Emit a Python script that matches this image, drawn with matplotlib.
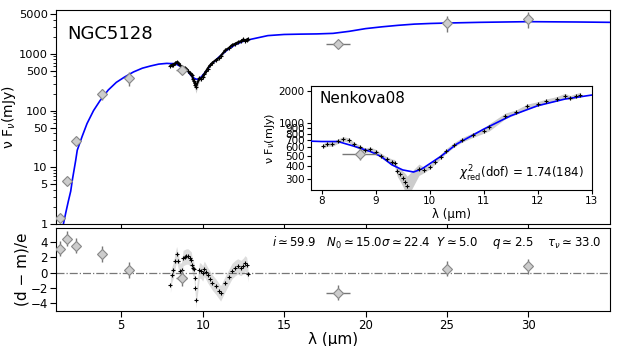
import numpy as np
import matplotlib
matplotlib.use('Agg')
import matplotlib.pyplot as plt
import matplotlib.ticker as mticker

plt.rcParams['font.family'] = ['DejaVu Sans']
plt.rcParams['mathtext.fontset'] = 'dejavusans'

# --- model SED (blue curve) ---
model_wave = [1.3, 1.45, 1.6, 1.75, 1.9, 2.0, 2.2, 2.3, 2.6, 2.9, 3.3, 3.7, 4.2, 4.7, 5.2,
              5.75, 6.3, 6.8, 7.3, 7.8, 8.0, 8.3, 8.6, 8.9, 9.1, 9.3, 9.5, 9.7, 9.85,
              10.0, 10.2, 10.5, 11.0, 11.5, 12.0, 12.5, 13.0, 14.0, 15.0, 16.0, 17.0,
              18.0, 19.0, 20.0, 21.0, 22.0, 23.0, 24.0, 25.0, 27.0, 30.0, 33.0, 35.0]
model_flux = [0.5, 1.0, 1.6, 2.5, 3.8, 6.0, 13, 20, 35, 59, 100, 150, 230, 315, 390,
              480, 560, 612, 660, 680, 675, 675, 610, 545, 490, 410, 368, 352, 375,
              420, 490, 640, 880, 1170, 1450, 1670, 1820, 2100, 2200, 2230, 2250,
              2300, 2500, 2790, 3000, 3190, 3350, 3440, 3500, 3600, 3700, 3650, 3600]

# --- photometry ---
phot_wave = [1.25, 1.65, 2.2, 3.8, 5.5, 8.7, 18.3, 25.0, 30.0]
phot_flux = [1.26, 5.7, 29.3, 200, 377, 516, 1475, 3540, 4170]
phot_ferr = [0.05, 0.2, 1.0, 45, 110, 65, 180, 1100, 1300]
phot_xerr = [0, 0, 0, 0, 0, 0.33, 0.75, 0, 0]
phot_resid = [3.1, 4.4, 3.5, 2.4, 0.35, -0.7, -2.6, 0.5, 0.8]

# --- spectrum (Nenkova08 fit window) ---
spec_wave = [8.02, 8.1, 8.2, 8.3, 8.4, 8.5, 8.6, 8.7, 8.8, 8.9, 9.0, 9.1, 9.2, 9.3,
             9.35, 9.4, 9.45, 9.5, 9.55, 9.58, 9.8, 9.9, 10.0, 10.1, 10.2, 10.3,
             10.45, 10.6, 10.8, 11.0, 11.1, 11.4, 11.6, 11.8, 12.0, 12.15, 12.35,
             12.5, 12.6, 12.7, 12.78]
spec_flux = [613, 640, 640, 680, 715, 695, 635, 598, 560, 572, 545, 500, 465, 440,
             430, 360, 335, 310, 285, 262, 372, 368, 395, 440, 490, 550,
             630, 700, 775, 850, 915, 1170, 1265, 1430, 1510, 1595, 1680,
             1800, 1720, 1790, 1840]
spec_err = [30, 30, 30, 32, 34, 33, 30, 28, 27, 27, 26, 25, 24, 24,
            30, 40, 45, 50, 55, 60, 45, 20, 20, 22, 24, 27,
            30, 34, 38, 45, 70, 70, 60, 70, 70, 75, 80,
            85, 80, 85, 85]
spec_resid = [-1.6, -0.3, 0.3, 1.5, 2.4, 1.5, 0.2, 0.3, 1.9, 2.0, 2.1, 2.1, 1.9, 1.7,
              1.0, 0.6, 0.5, -0.7, -2.0, -3.6, 0.3, 0.2, -0.1, 0.5, 0.1, -0.3,
              -0.8, -1.3, -1.8, -2.4, -2.7, -1.4, -0.6, 0.2, 0.6, 0.8, 0.6,
              0.9, 1.2, 1.0, -0.2]

params_text = (r'$i\simeq59.9$   $N_0\simeq15.0\sigma\simeq22.4$  $Y\simeq5.0$    '
               r'$q\simeq2.5$    $\tau_\nu\simeq33.0$')

spec_lo = np.array(spec_flux) - np.array(spec_err)
spec_hi = np.array(spec_flux) + np.array(spec_err)

mk = dict(marker='D', ms=5, mfc='#cccccc', mec='#888888', mew=0.8,
          ecolor='#777777', elinewidth=1, ls='none', capsize=0)

fig = plt.figure(figsize=(6.23, 3.46), dpi=100)
ax = fig.add_axes([0.090, 0.3526, 0.889, 0.618])
axr = fig.add_axes([0.090, 0.101, 0.889, 0.240], sharex=ax)
axi = fig.add_axes([0.499, 0.451, 0.451, 0.300])

# main panel
ax.plot(model_wave, model_flux, color='blue', lw=1.2, zorder=3)
ax.fill_between(spec_wave, spec_lo, spec_hi, color='#cccccc', lw=0, zorder=2)
ax.plot(spec_wave, spec_flux, color='black', lw=1.5, marker='+', ms=3, mew=0.8, zorder=4)
ax.errorbar(phot_wave, phot_flux, yerr=phot_ferr, xerr=phot_xerr, zorder=5, **mk)
ax.set_yscale('log')
ax.set_ylim(1, 5900)
ax.set_xlim(1.0, 35.0)
ax.yaxis.set_major_locator(mticker.FixedLocator([1, 5, 10, 50, 100, 500, 1000, 5000]))
ax.yaxis.set_major_formatter(mticker.FixedFormatter(['1', '5', '10', '50', '100', '500', '1000', '5000']))
ax.yaxis.set_minor_locator(mticker.LogLocator(subs=np.arange(2, 10)))
ax.yaxis.set_minor_formatter(mticker.NullFormatter())
ax.tick_params(labelsize=8.2, labelbottom=False, length=4.5, pad=1.5)
ax.tick_params(which='minor', length=2.5)
ax.set_ylabel(r'ν F$_{\nu}$(mJy)', fontsize=10, labelpad=0.5)
ax.text(0.02, 0.93, 'NGC5128', transform=ax.transAxes, fontsize=13, va='top')

# inset
axi.plot(model_wave, model_flux, color='blue', lw=1.2, zorder=3)
axi.fill_between(spec_wave, spec_lo, spec_hi, color='#cccccc', lw=0, zorder=2)
axi.plot(spec_wave, spec_flux, color='black', ls='none', marker='+', ms=3.5, mew=0.8, zorder=4)
axi.errorbar(phot_wave, phot_flux, yerr=phot_ferr, xerr=phot_xerr, zorder=5, **mk)
axi.set_yscale('log')
axi.set_xlim(7.8, 13.0)
axi.set_ylim(240, 2200)
iy = [300, 400, 500, 600, 700, 800, 900, 1000, 2000]
axi.yaxis.set_major_locator(mticker.FixedLocator(iy))
axi.yaxis.set_major_formatter(mticker.FixedFormatter([str(v) for v in iy]))
axi.yaxis.set_minor_locator(mticker.NullLocator())
axi.tick_params(labelsize=7.5, length=3, pad=1.5)
axi.set_xlabel('λ (μm)', fontsize=8.5, labelpad=1)
axi.set_ylabel(r'ν F$_{\nu}$(mJy)', fontsize=8, labelpad=1)
axi.text(0.03, 0.95, 'Nenkova08', transform=axi.transAxes, fontsize=11, va='top')
axi.text(0.97, 0.06, r'$\chi^2_{\rm red}$(dof) = 1.74(184)', transform=axi.transAxes,
         fontsize=8.5, ha='right', va='bottom')

# residual panel
axr.axhline(0, color='#777777', ls='-.', lw=0.9)
axr.fill_between(spec_wave, np.array(spec_resid) - 1, np.array(spec_resid) + 1,
                 color='#dddddd', lw=0, zorder=1)
axr.plot(spec_wave, spec_resid, color='black', ls='none', marker='+', ms=3, mew=0.8, zorder=3)
axr.errorbar(phot_wave, phot_resid, yerr=1, xerr=phot_xerr, zorder=4, **mk)
axr.set_ylim(-5.0, 5.8)
axr.set_yticks([-4, -2, 0, 2, 4])
axr.set_xticks([5, 10, 15, 20, 25, 30])
axr.tick_params(labelsize=8.5, length=4.5, pad=1.5)
axr.set_ylabel('(d − m)/e', fontsize=11, labelpad=0.5)
axr.set_xlabel('λ (μm)', fontsize=11, labelpad=0)
axr.text(0.985, 0.93, params_text, transform=axr.transAxes, fontsize=8.5,
         ha='right', va='top')

fig.savefig('out.png', dpi=100)
